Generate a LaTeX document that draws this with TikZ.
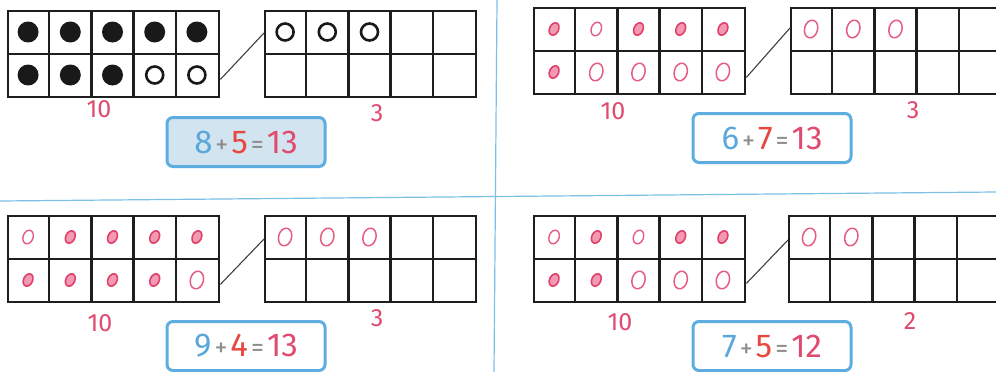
\documentclass[tikz,border=0pt]{standalone}
\usepackage{fontspec}
\setmainfont{Fira Sans}
\usetikzlibrary{calc}
\definecolor{sepblue}{HTML}{7CC0E6}
\definecolor{boxblue}{HTML}{5EADE0}
\definecolor{boxfill}{HTML}{D3E4F1}
\definecolor{eqblue}{HTML}{5AA7DC}
\definecolor{eqred}{HTML}{E8473F}
\definecolor{eqpink}{HTML}{E04A6E}
\definecolor{eqgray}{HTML}{8C8C8C}
\definecolor{pinkline}{HTML}{E0406A}
\definecolor{pinkfill}{HTML}{F29AB2}
\definecolor{framecol}{HTML}{1E1E1E}
\tikzset{
  frame/.style={draw=framecol, line width=2.4pt, fill=white, inner sep=0pt, minimum width=211pt, minimum height=86pt, anchor=north west},
  frameline/.style={draw=framecol, line width=2.4pt},
  link/.style={draw=black!75, line width=1.1pt},
  sepline/.style={draw=sepblue, line width=1.2pt},
  eqbox/.style={draw=boxblue, line width=3pt, rounded corners=6pt, fill=white, minimum width=158pt, minimum height=49pt, inner sep=0pt},
  lbl/.style={text=eqpink, font=\fontsize{25}{25}\selectfont, inner sep=0pt},
  pics/dotfull/.style={code={\fill[black!90] (0,0) circle (10.5pt);}},
  pics/dotopen/.style={code={\draw[black!90, line width=2.6pt] (0,0) circle (8.5pt);}},
  pics/pinkf/.style={code={\draw[pinkline, line width=1.6pt, fill=pinkfill, rotate=-25] (0,0) ellipse (4.5pt and 6.5pt);}},
  pics/pinko/.style={code={\draw[pinkline!85, line width=1.4pt, rotate=-20] (0,0) ellipse (5pt and 7pt);}},
  pics/pinkbig/.style={code={\draw[pinkline!85, line width=1.5pt, rotate=-15] (0,0) ellipse (6.5pt and 9pt);}},
}
\newcommand\tenframe[3]{%
  \node[frame] (#1) at (#2,#3) {};
  \foreach \i in {1,...,4} {\draw[frameline] ($(#1.north west)+(\i*42.2,0)$) -- ($(#1.south west)+(\i*42.2,0)$);}
  \draw[frameline] (#1.west) -- (#1.east);
}
\newcommand\mk[4]{\pic at ($(#1.north west)+({21.1+#2*42.2},{22+#3*43})$) {#4};}
\newcommand\eqtxt[3]{{\fontsize{33}{33}\selectfont\color{eqblue}#1}\hspace{3pt}{\fontsize{26}{26}\selectfont\color{eqgray}+}\hspace{3pt}{\fontsize{33}{33}\selectfont\color{eqred}#2}\hspace{3pt}{\fontsize{26}{26}\selectfont\color{eqgray}=}\hspace{3pt}{\fontsize{33}{33}\selectfont\color{eqpink}#3}}
\begin{document}
\begin{tikzpicture}[x=1pt,y=-1pt]
\useasboundingbox (0,0) rectangle (996,372);
\fill[white] (0,0) rectangle (996,372);
\clip (0,0) rectangle (996,372);
% separators
\coordinate (sv1) at (497,0);
\coordinate (sv2) at (494,372);
\coordinate (sh1) at (0,201);
\coordinate (sh2) at (996,192);
\draw[sepline] (sv1) -- (sv2);
\draw[sepline] (sh1) -- (sh2);
% ---------- top left
\tenframe{A1}{7}{10}
\tenframe{A2}{264}{10}
\foreach \c in {0,...,4} {\mk{A1}{\c}{0}{dotfull}}
\foreach \c in {0,1,2} {\mk{A1}{\c}{1}{dotfull}}
\foreach \c in {3,4} {\mk{A1}{\c}{1}{dotopen}}
\foreach \c in {0,1,2} {\mk{A2}{\c}{0}{dotopen}}
\coordinate (a1) at ($(A1.south east)+(0,-19)$);
\coordinate (a2) at ($(A2.north west)+(0,23)$);
\draw[link] (a1) -- (a2);
\node[lbl] (A1l) at (99,109) {10};
\node[lbl] (A2l) at (377,113) {3};
\node[eqbox, fill=boxfill] (AE) at (246,142) {\eqtxt{8}{5}{13}};
% ---------- top right
\tenframe{B1}{533}{7}
\tenframe{B2}{790}{7}
\mk{B1}{0}{0}{pinkf}\mk{B1}{1}{0}{pinko}\mk{B1}{2}{0}{pinkf}\mk{B1}{3}{0}{pinkf}\mk{B1}{4}{0}{pinkf}
\mk{B1}{0}{1}{pinkf}
\foreach \c in {1,...,4} {\mk{B1}{\c}{1}{pinkbig}}
\foreach \c in {0,1,2} {\mk{B2}{\c}{0}{pinkbig}}
\coordinate (b1) at ($(B1.south east)+(0,-18)$);
\coordinate (b2) at ($(B2.north west)+(0,21)$);
\draw[link] (b1) -- (b2);
\node[lbl] (B1l) at (613,111) {10};
\node[lbl] (B2l) at (913,110) {3};
\node[eqbox] (BE) at (772,138) {\eqtxt{6}{7}{13}};
% ---------- bottom left
\tenframe{C1}{7}{215}
\tenframe{C2}{264}{215}
\mk{C1}{0}{0}{pinko}\foreach \c in {1,...,4} {\mk{C1}{\c}{0}{pinkf}}
\foreach \c in {0,...,3} {\mk{C1}{\c}{1}{pinkf}}\mk{C1}{4}{1}{pinkbig}
\foreach \c in {0,1,2} {\mk{C2}{\c}{0}{pinkbig}}
\coordinate (c1) at ($(C1.south east)+(0,-19)$);
\coordinate (c2) at ($(C2.north west)+(0,24)$);
\draw[link] (c1) -- (c2);
\node[lbl] (C1l) at (100,323) {10};
\node[lbl] (C2l) at (377,318) {3};
\node[eqbox] (CE) at (246,346) {\eqtxt{9}{4}{13}};
% ---------- bottom right
\tenframe{D1}{533}{215}
\tenframe{D2}{788}{215}
\mk{D1}{0}{0}{pinko}\mk{D1}{1}{0}{pinkf}\mk{D1}{2}{0}{pinko}\mk{D1}{3}{0}{pinkf}\mk{D1}{4}{0}{pinkf}
\mk{D1}{0}{1}{pinkf}\mk{D1}{1}{1}{pinkf}
\foreach \c in {2,3,4} {\mk{D1}{\c}{1}{pinkbig}}
\foreach \c in {0,1} {\mk{D2}{\c}{0}{pinkbig}}
\coordinate (d1) at ($(D1.south east)+(0,-20)$);
\coordinate (d2) at ($(D2.north west)+(0,25)$);
\draw[link] (d1) -- (d2);
\node[lbl] (D1l) at (620,322) {10};
\node[lbl] (D2l) at (910,321) {2};
\node[eqbox] (DE) at (772,346) {\eqtxt{7}{5}{12}};
\end{tikzpicture}
\end{document}
